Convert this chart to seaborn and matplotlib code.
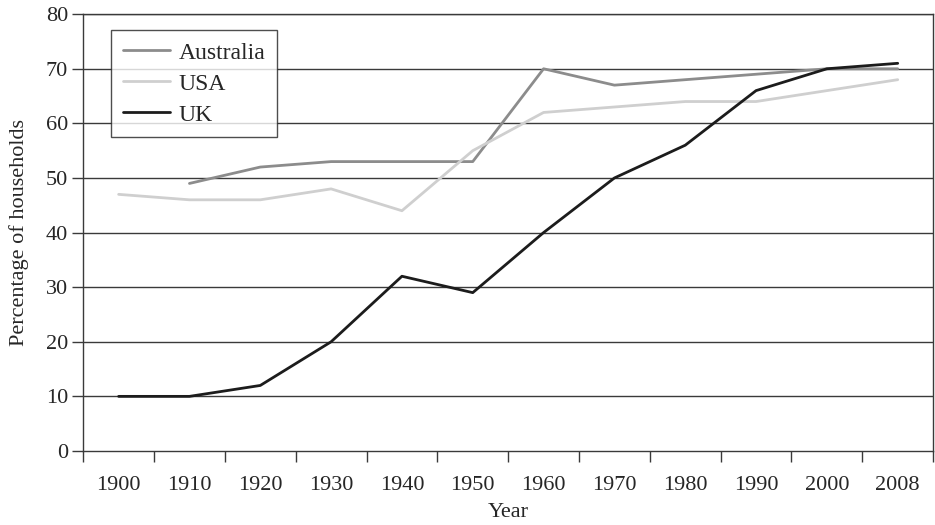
import numpy as np
import pandas as pd
import matplotlib
matplotlib.use("Agg")
import matplotlib.pyplot as plt
import seaborn as sns

# Data
years = ["1900", "1910", "1920", "1930", "1940", "1950",
         "1960", "1970", "1980", "1990", "2000", "2008"]
australia = [np.nan, 49, 52, 53, 53, 53, 70, 67, 68, 69, 70, 70]
usa = [47, 46, 46, 48, 44, 55, 62, 63, 64, 64, 66, 68]
uk = [10, 10, 12, 20, 32, 29, 40, 50, 56, 66, 70, 71]

series = {"Australia": australia, "USA": usa, "UK": uk}
colors = {"Australia": "#8c8c8c", "USA": "#cfcfcf", "UK": "#1c1c1c"}

rows = []
for name, vals in series.items():
    for i, (yr, v) in enumerate(zip(years, vals)):
        rows.append({"pos": i, "Year": yr, "Country": name, "Value": v})
df = pd.DataFrame(rows).dropna()

sns.set_style("white")
plt.rcParams["font.family"] = ["Liberation Serif", "DejaVu Serif"]
plt.rcParams["font.size"] = 16

fig = plt.figure(figsize=(9.35, 5.25), dpi=100)
ax = fig.add_axes([0.089, 0.141, 0.909, 0.832])

# grid lines first so the data sits on top
for yv in range(10, 81, 10):
    ax.axhline(yv, color="#3a3a3a", lw=1.0, zorder=1)

sns.lineplot(data=df, x="pos", y="Value", hue="Country",
             hue_order=list(series.keys()), palette=colors,
             linewidth=2.0, ax=ax, zorder=3, legend=True)

ax.set_xlim(-0.5, len(years) - 0.5)
ax.set_ylim(0, 80)
ax.set_yticks(range(0, 81, 10))

# labels centred in each slot, tick marks on slot boundaries
ax.set_xticks(np.arange(len(years)))
ax.set_xticklabels(years)
ax.set_xticks(np.arange(len(years) + 1) - 0.5, minor=True)
ax.tick_params(axis="x", which="major", length=0, pad=18, labelsize=16)
ax.tick_params(axis="x", which="minor", length=8, width=1, color="#3a3a3a",
               direction="out", bottom=True)
ax.tick_params(axis="y", length=8, width=1, color="#3a3a3a", direction="out",
               left=True, labelsize=16, pad=3)

for side in ["left", "bottom", "right", "top"]:
    ax.spines[side].set_color("#3a3a3a")
    ax.spines[side].set_linewidth(1.0)

ax.set_xlabel("Year", fontsize=16, labelpad=6)
ax.set_ylabel("Percentage of households", fontsize=16, labelpad=12)

leg = ax.legend(loc="upper left", bbox_to_anchor=(0.033, 0.963),
                frameon=True, fancybox=False, fontsize=17,
                handlelength=2.0, handletextpad=0.35, labelspacing=0.4,
                borderpad=0.5, borderaxespad=0)
leg.get_frame().set_edgecolor("#222222")
leg.get_frame().set_linewidth(1.0)
leg.set_zorder(5)
for line in leg.get_lines():
    line.set_linewidth(2.0)

fig.savefig("out.png", dpi=100, facecolor="white")
